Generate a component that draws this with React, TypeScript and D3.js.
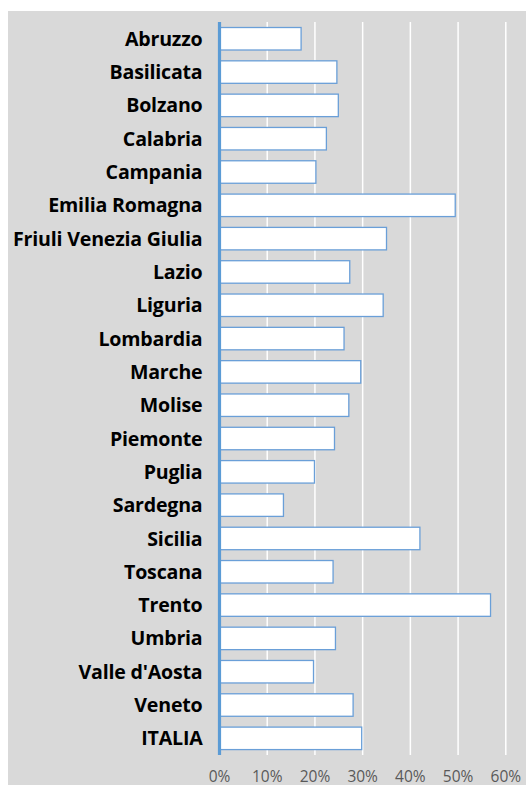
import React from "react";
import * as d3 from "d3";

const categories = [
  "Abruzzo", "Basilicata", "Bolzano", "Calabria", "Campania", "Emilia Romagna",
  "Friuli Venezia Giulia", "Lazio", "Liguria", "Lombardia", "Marche", "Molise",
  "Piemonte", "Puglia", "Sardegna", "Sicilia", "Toscana", "Trento", "Umbria",
  "Valle d'Aosta", "Veneto", "ITALIA",
];
const values = [
  0.171, 0.246, 0.249, 0.224, 0.202, 0.494,
  0.350, 0.273, 0.343, 0.261, 0.296, 0.271,
  0.241, 0.199, 0.134, 0.420, 0.238, 0.568, 0.243,
  0.197, 0.280, 0.298,
];
const ticks = [0, 0.1, 0.2, 0.3, 0.4, 0.5, 0.6];

const W = 526;
const H = 785;

export default function App() {
  const x = d3.scaleLinear().domain([0, 0.6]).range([219.5, 505.8]);
  const y = d3.scaleBand<string>().domain(categories).range([22.1, 755]).paddingInner(0.325).paddingOuter(0.1625);
  const fmt = d3.format(".0%");
  const font = "'Open Sans', sans-serif";
  return (
    <svg width={W} height={H} style={{ position: "absolute", left: 0, top: 0 }}>
      <rect x={8} y={11} width={W - 8} height={H - 11} fill="#d9d9d9" />
      {ticks.slice(1).map((t) => (
        <line key={t} x1={x(t)} x2={x(t)} y1={22} y2={755} stroke="#ffffff" strokeWidth={1.5} />
      ))}
      {categories.map((c, i) => (
        <g key={c}>
          <rect
            x={x(0)}
            y={y(c)!}
            width={x(values[i]) - x(0)}
            height={y.bandwidth()}
            fill="#ffffff"
            stroke="#6a9fd8"
            strokeWidth={1.3}
          />
          <text
            x={202.5}
            y={y(c)! + y.bandwidth() / 2}
            dy="0.36em"
            textAnchor="end"
            fontFamily={font}
            fontWeight={700}
            fontSize={19.6}
            letterSpacing={-0.2}
            fill="#000000"
          >
            {c}
          </text>
        </g>
      ))}
      <line x1={x(0)} x2={x(0)} y1={22} y2={755} stroke="#5b9bd5" strokeWidth={3.2} />
      {ticks.map((t) => (
        <text
          key={t}
          x={x(t)}
          y={781.5}
          textAnchor="middle"
          fontFamily={font}
          fontSize={15.5}
          fill="#595959"
        >
          {fmt(t)}
        </text>
      ))}
    </svg>
  );
}
